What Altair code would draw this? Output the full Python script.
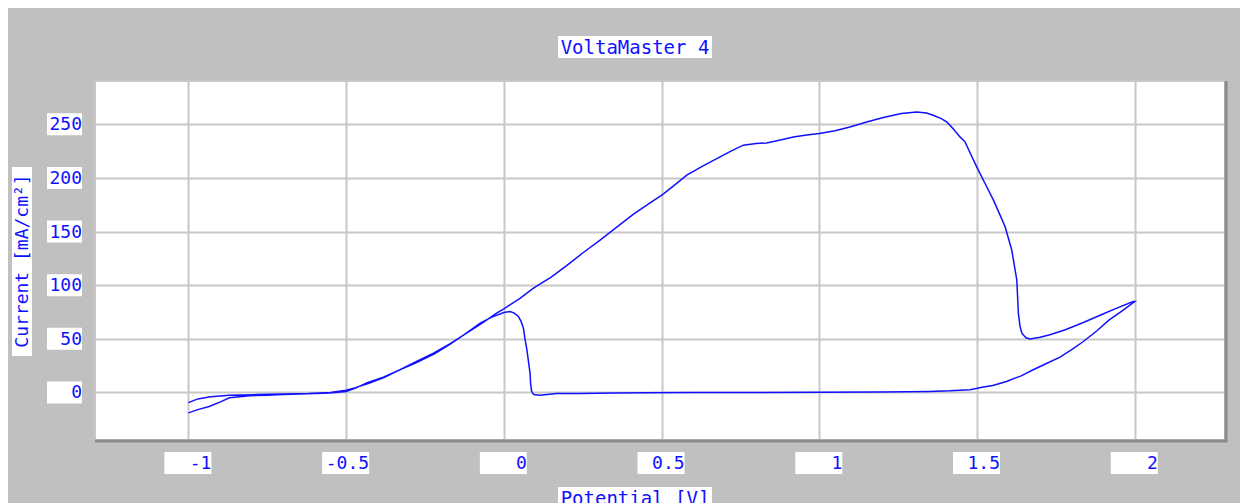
import altair as alt
import pandas as pd

# ---- data (potential in V, current in mA/cm²) ----
fwd_potential = [-1.0, -0.97, -0.934, -0.9, -0.87, -0.806, -0.75, -0.7, -0.6, -0.554, -0.5, -0.47,
                 -0.435, -0.38, -0.329, -0.28, -0.223, -0.17, -0.118, -0.07, -0.023, 0.0, 0.05, 0.094,
                 0.15, 0.199, 0.25, 0.305, 0.36, 0.41, 0.46, 0.504, 0.54, 0.58, 0.63, 0.675, 0.72,
                 0.759, 0.8, 0.833, 0.88, 0.918, 0.96, 1.0, 1.05, 1.097, 1.15, 1.203, 1.26, 1.309,
                 1.34, 1.361, 1.385, 1.404, 1.425, 1.446, 1.462, 1.48, 1.499, 1.525, 1.552, 1.572,
                 1.589, 1.61, 1.626, 1.631, 1.636, 1.642, 1.655, 1.668, 1.7, 1.731, 1.78, 1.837,
                 1.89, 1.943, 1.995]
fwd_current = [-19, -16, -13, -9, -5, -3, -2.5, -2, -1, -0.5, 1, 4,
               8.8, 14.5, 21.2, 28.5, 36.7, 45.5, 55.3, 64.5, 74, 78, 87.5, 97.2,
               107.5, 118.2, 130, 142, 154.5, 166, 176, 184.6, 193, 202.6, 211, 218, 225,
               230.5, 232, 232.6, 235.5, 238.2, 240, 241.4, 244, 247.5, 252, 256.3, 260, 261.5,
               260.5, 258.4, 255.5, 252.2, 245.5, 238.2, 233.6, 222, 210.3, 195, 179.3, 166,
               154.5, 132.8, 104.9, 74, 62, 55.3, 51, 49.8, 51.5, 53.8, 58.5, 65.2,
               72, 78.6, 84.7]
rev_potential = [2.0, 1.96, 1.919, 1.88, 1.837, 1.8, 1.763, 1.72, 1.678, 1.64, 1.593, 1.55, 1.52,
                 1.478, 1.414, 1.35, 1.2, 1.0, 0.8, 0.6, 0.45, 0.35, 0.24, 0.168, 0.115, 0.095,
                 0.088, 0.085, 0.083, 0.078, 0.073, 0.067, 0.062, 0.055, 0.046, 0.033, 0.02, 0.0,
                 -0.04, -0.075, -0.12, -0.17, -0.22, -0.28, -0.33, -0.38, -0.43, -0.47, -0.5,
                 -0.55, -0.62, -0.7, -0.78, -0.87, -0.93, -0.97, -1.0]
rev_current = [84.7, 76, 67.7, 57.5, 47.5, 40, 33, 27, 21.2, 15.5, 10.3, 6.5, 5.1,
               2.6, 1.5, 1, 0.5, 0.3, 0, 0, -0.3, -0.5, -1, -1, -2.5, -2,
               1, 8, 18, 29, 40, 50, 60, 66, 70.8, 74, 75.4, 74.5,
               70, 64.7, 55, 45, 36, 27.5, 21, 14, 8.3, 4.5, 2,
               0, -1, -1.5, -2, -2.5, -4, -6, -9.5]

x_ticks = [-1, -0.5, 0, 0.5, 1, 1.5, 2]
x_tick_labels = ["-1", "-0.5", "0", "0.5", "1", "1.5", "2"]
y_ticks = [0, 50, 100, 150, 200, 250]
y_tick_labels = ["0", "50", "100", "150", "200", "250"]

chart_title = "VoltaMaster 4"
x_title = "Potential [V]"
y_title = "Current [mA/cm²]"

# ---- tables ----
potential = fwd_potential + rev_potential
current = fwd_current + rev_current
curve = pd.DataFrame({"E": potential, "I": current, "order": list(range(len(potential)))})
xt = pd.DataFrame({"v": x_ticks, "lab": x_tick_labels})
yt = pd.DataFrame({"v": y_ticks, "lab": y_tick_labels})
one = pd.DataFrame({"t": [chart_title], "xt": [x_title], "yt": [y_title]})

W, H = 1130, 359
FONT = "DejaVu Sans Mono"
BLUE = "#1010ff"
xs = alt.Scale(domain=[-1.296, 2.286], nice=False, zero=False)
ys = alt.Scale(domain=[-44.3, 290.3], nice=False, zero=False)
ax_x = alt.Axis(values=x_ticks, grid=True, labels=False, ticks=False, domain=False, title=None)
ax_y = alt.Axis(values=y_ticks, grid=True, labels=False, ticks=False, domain=False, title=None)

line = alt.Chart(curve).mark_line(color=BLUE, strokeWidth=1.5).encode(
    x=alt.X("E:Q", scale=xs, axis=ax_x),
    y=alt.Y("I:Q", scale=ys, axis=ax_y),
    order="order:Q",
)

# plot frame: dark edge on right and bottom
frame_r = alt.Chart(one).mark_rule(color="#8a8a8a", strokeWidth=3).encode(
    x=alt.value(W + 1), y=alt.value(0), y2=alt.value(H + 2))
frame_b = alt.Chart(one).mark_rule(color="#8a8a8a", strokeWidth=3).encode(
    x=alt.value(0), x2=alt.value(W + 2), y=alt.value(H + 1))

ybox = alt.Chart(yt).mark_rect(fill="white", yOffset=-11, y2Offset=11).encode(
    y=alt.Y("v:Q", scale=ys, axis=ax_y), y2="v:Q",
    x=alt.value(-48), x2=alt.value(-13))
ytext = alt.Chart(yt).mark_text(align="right", baseline="middle", font=FONT, fontSize=18,
                                color=BLUE, dy=1).encode(
    y=alt.Y("v:Q", scale=ys, axis=ax_y), x=alt.value(-13), text="lab:N")

xbox = alt.Chart(xt).mark_rect(fill="white", xOffset=-24, x2Offset=23).encode(
    x=alt.X("v:Q", scale=xs, axis=ax_x), x2="v:Q",
    y=alt.value(H + 12), y2=alt.value(H + 34))
xtext = alt.Chart(xt).mark_text(align="right", baseline="middle", font=FONT, fontSize=18,
                                color=BLUE, dx=23, dy=1).encode(
    x=alt.X("v:Q", scale=xs, axis=ax_x), y=alt.value(H + 23), text="lab:N")

tbox = alt.Chart(one).mark_rect(fill="white").encode(
    x=alt.value(463), x2=alt.value(617), y=alt.value(-45), y2=alt.value(-23))
ttext = alt.Chart(one).mark_text(align="center", baseline="middle", font=FONT, fontSize=19,
                                 color=BLUE, dy=1).encode(
    x=alt.value(540), y=alt.value(-34), text="t:N")

xtbox = alt.Chart(one).mark_rect(fill="white").encode(
    x=alt.value(463), x2=alt.value(617), y=alt.value(H + 47), y2=alt.value(H + 70))
xttext = alt.Chart(one).mark_text(align="center", baseline="middle", font=FONT, fontSize=19,
                                  color=BLUE).encode(
    x=alt.value(540), y=alt.value(H + 59), text="xt:N")

ytbox = alt.Chart(one).mark_rect(fill="white").encode(
    x=alt.value(-83), x2=alt.value(-63), y=alt.value(86), y2=alt.value(275))
yttext = alt.Chart(one).mark_text(align="center", baseline="middle", font=FONT, fontSize=18,
                                  color=BLUE, angle=270).encode(
    x=alt.value(-72), y=alt.value(180), text="yt:N")

chart = alt.layer(
    line, frame_r, frame_b, ybox, ytext, xbox, xtext, tbox, ttext, xtbox, xttext, ytbox, yttext
).properties(
    width=W, height=H,
    autosize=alt.AutoSizeParams(type="none"),
    padding={"left": 87, "top": 73, "right": 15, "bottom": 75},
).configure(
    background="#c0c0c0",
).configure_view(
    fill="white", stroke="#c8c8c8", strokeWidth=2,
).configure_axis(
    gridColor="#c8c8c8", gridWidth=2, gridOpacity=1,
)

chart.save("out.html", embed_options={"renderer": "svg", "actions": False})
